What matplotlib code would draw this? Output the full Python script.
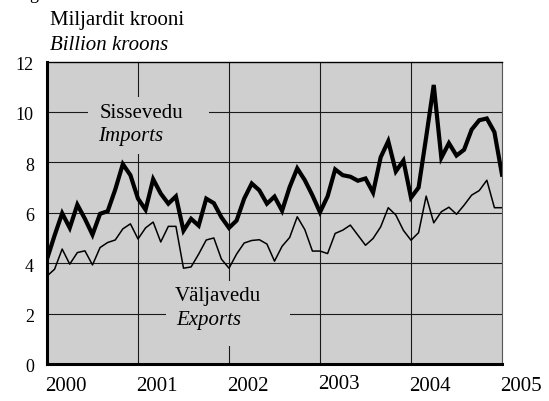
import numpy as np
import matplotlib
matplotlib.use("Agg")
import matplotlib.pyplot as plt
from matplotlib.patches import Rectangle
from matplotlib.transforms import ScaledTranslation

# monthly values, Jan 2000 .. Jan 2005 (billion kroons)
imports = [4.16, 5.1, 5.98, 5.4, 6.32, 5.76, 5.13, 5.96, 6.06, 6.92, 7.93, 7.49,
           6.56, 6.12, 7.33, 6.76, 6.36, 6.65, 5.29, 5.76, 5.49, 6.56, 6.38, 5.82,
           5.4, 5.69, 6.56, 7.16, 6.89, 6.36, 6.64, 6.08, 7.02, 7.76, 7.29, 6.69,
           6.02, 6.65, 7.72, 7.49, 7.43, 7.27, 7.36, 6.8, 8.2, 8.84, 7.64, 8.07,
           6.6, 7.0, 9.0, 11.07, 8.18, 8.76, 8.27, 8.5, 9.3, 9.67, 9.74, 9.2,
           7.51]
exports = [3.49, 3.76, 4.56, 3.96, 4.42, 4.49, 3.93, 4.62, 4.82, 4.92, 5.36, 5.56,
           4.96, 5.4, 5.63, 4.84, 5.46, 5.46, 3.8, 3.85, 4.36, 4.92, 5.0, 4.16,
           3.8, 4.36, 4.8, 4.9, 4.93, 4.76, 4.08, 4.67, 5.02, 5.84, 5.33, 4.48,
           4.48, 4.38, 5.18, 5.31, 5.51, 5.11, 4.71, 4.98, 5.44, 6.2, 5.91, 5.3,
           4.91, 5.21, 6.66, 5.6, 6.04, 6.22, 5.94, 6.3, 6.7, 6.88, 7.29, 6.2,
           6.2]
years = ["2000", "2001", "2002", "2003", "2004", "2005"]
yticks = [0, 2, 4, 6, 8, 10, 12]

months = np.arange(len(imports))
year_pos = np.arange(len(years)) * 12

BG = "#cfcfcf"
plt.rcParams["font.family"] = ["Liberation Serif", "DejaVu Serif"]
plt.rcParams["font.size"] = 15

fig = plt.figure(figsize=(5.49, 4.01), dpi=100)
ax = fig.add_axes([47 / 549, 1 - 364 / 401, 455 / 549, 302.5 / 401])
ax.set_facecolor(BG)
ax.set_xlim(0, 60)
ax.set_ylim(0, 12)

# grid
for y in yticks[1:-1]:
    ax.axhline(y, color="#1a1a1a", lw=0.8, zorder=1)
for x in year_pos[1:-1]:
    ax.axvline(x, color="#1a1a1a", lw=0.8, zorder=1)

# label boxes hide the grid
ax.add_patch(Rectangle((5.45, 8.33), 15.85, 2.27, facecolor=BG, edgecolor="none", zorder=2))
ax.add_patch(Rectangle((15.7, 0.72), 16.4, 2.58, facecolor=BG, edgecolor="none", zorder=2))

ax.plot(months, imports, color="black", lw=3.0, zorder=3, solid_joinstyle="miter")
ax.plot(months, exports, color="black", lw=1.1, zorder=3)

ax.text(6.9, 9.74, "Sissevedu", ha="left", va="baseline", zorder=4)
ax.text(6.75, 8.85, "Imports", ha="left", va="baseline", style="italic", zorder=4)
ax.text(16.8, 2.48, "Väljavedu", ha="left", va="baseline", zorder=4)
ax.text(17.0, 1.53, "Exports", ha="left", va="baseline", style="italic", zorder=4)

ax.set_yticks(yticks)
ax.set_xticks(year_pos)
ax.set_xticklabels(years, ha="left")
ax.tick_params(length=0)
ax.tick_params(axis="y", pad=9.5, labelsize=13)
ax.tick_params(axis="x", pad=9.5)
for lab in ax.get_xticklabels():
    dy = 2 if lab.get_text() == "2003" else 0
    lab.set_transform(lab.get_transform() + ScaledTranslation(-2 / 100, dy / 100, fig.dpi_scale_trans))
for lab in ax.get_yticklabels():
    lab.set_transform(lab.get_transform() + ScaledTranslation(0, -2 / 100, fig.dpi_scale_trans))

ax.spines["left"].set_linewidth(2.2)
ax.spines["bottom"].set_linewidth(2.2)
ax.spines["top"].set_linewidth(1.0)
ax.spines["right"].set_linewidth(0.8)
ax.spines["right"].set_color("#555555")
for s in ax.spines.values():
    s.set_zorder(5)

fig.text(50 / 549, 1 - 20 / 401, "Miljardit krooni", ha="left", va="center")
fig.text(50 / 549, 1 - 45 / 401, "Billion kroons", ha="left", va="center", style="italic")
fig.text(29 / 549, 1 + 1 / 401, "g", ha="left", va="baseline", fontsize=13)

fig.savefig("out.png", dpi=100)
